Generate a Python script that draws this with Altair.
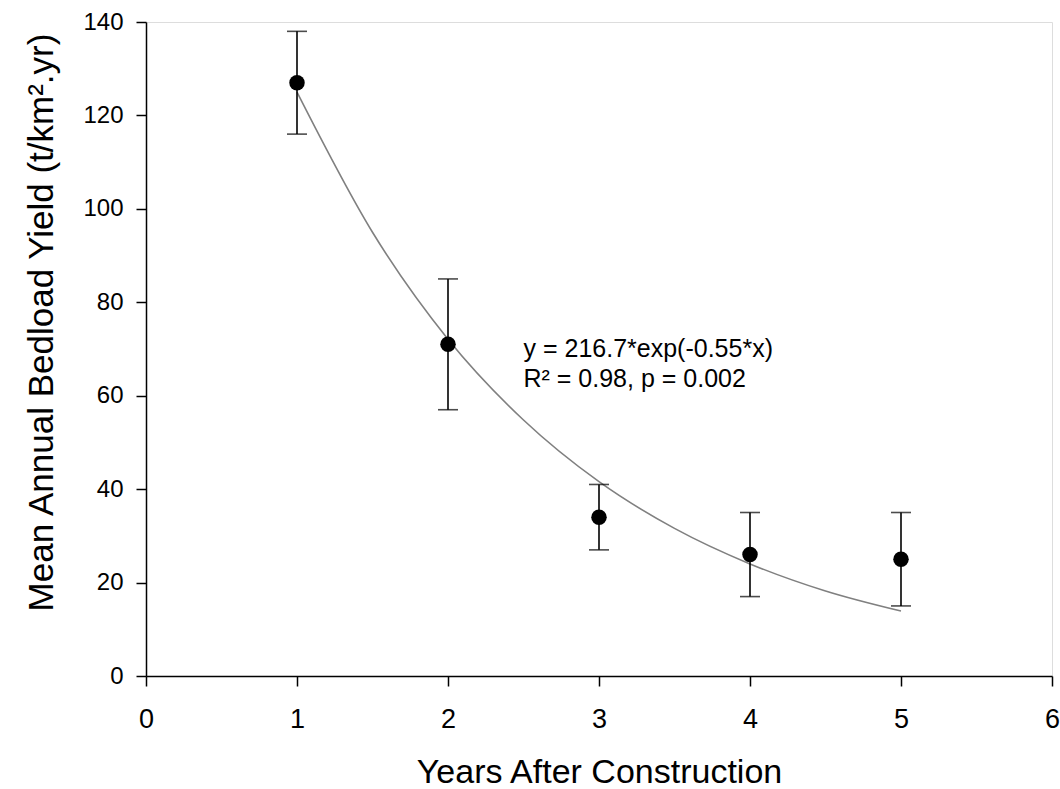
import altair as alt
import pandas as pd

years = [1, 2, 3, 4, 5]
mean_yield = [127, 71, 34, 26, 25]
lower = [116, 57, 27, 17, 15]
upper = [138, 85, 41, 35, 35]

fit_x = [1, 1.5, 2, 2.5, 3, 3.5, 4, 4.5, 5]
fit_y = [125.0, 95.0, 72.1, 54.8, 41.6, 31.6, 24.0, 18.2, 13.9]

ann_text = ["y = 216.7*exp(-0.55*x)", "R\u00b2 = 0.98, p = 0.002"]
ann_y = [68.3, 61.9]

FONT = "Liberation Sans"

pts = pd.DataFrame({"x": years, "y": mean_yield, "lo": lower, "hi": upper})
fit = pd.DataFrame({"x": fit_x, "y": fit_y})
ann = pd.DataFrame({"t": ann_text, "y": ann_y, "x": [2.5, 2.5]})

xscale = alt.Scale(domain=[0, 6], nice=False, zero=False)
yscale = alt.Scale(domain=[0, 140], nice=False)

xaxis = alt.Axis(
    title="Years After Construction", values=[0, 1, 2, 3, 4, 5, 6], format="d",
    grid=False, tickSize=10, tickWidth=1.5, tickColor="black",
    domainColor="black", domainWidth=1.5, labelFlush=False,
    labelFontSize=27, labelPadding=20, labelColor="black", labelFont=FONT,
    titleFontSize=34, titleFont=FONT, titleFontWeight="normal", titleColor="black",
    titleY=106, titleBaseline="alphabetic",
)
yaxis = alt.Axis(
    title="Mean Annual Bedload Yield (t/km\u00b2.yr)", values=[0, 20, 40, 60, 80, 100, 120, 140],
    grid=False, tickSize=10, tickWidth=1.5, tickColor="black",
    domainColor="black", domainWidth=1.5, labelFlush=False,
    labelFontSize=24, labelPadding=13, labelColor="black", labelFont=FONT,
    titleFontSize=35, titleFont=FONT, titleFontWeight="normal", titleColor="black",
    titleX=-94, titleY=300, titleBaseline="alphabetic",
)

base = alt.Chart(pts)

curve = alt.Chart(fit).mark_line(color="#808080", strokeWidth=1.6, interpolate="monotone").encode(
    x=alt.X("x:Q", scale=xscale, axis=xaxis),
    y=alt.Y("y:Q", scale=yscale, axis=yaxis),
)

bars = base.mark_rule(color="black", strokeWidth=1.6).encode(
    x=alt.X("x:Q", scale=xscale), y=alt.Y("lo:Q", scale=yscale), y2="hi:Q"
)
cap_lo = base.mark_tick(color="black", orient="horizontal", size=20, thickness=1.6).encode(
    x=alt.X("x:Q", scale=xscale), y=alt.Y("lo:Q", scale=yscale)
)
cap_hi = base.mark_tick(color="black", orient="horizontal", size=20, thickness=1.6).encode(
    x=alt.X("x:Q", scale=xscale), y=alt.Y("hi:Q", scale=yscale)
)
dots = base.mark_circle(color="black", size=240, opacity=1).encode(
    x=alt.X("x:Q", scale=xscale), y=alt.Y("y:Q", scale=yscale)
)
text = alt.Chart(ann).mark_text(
    align="left", baseline="alphabetic", fontSize=25, font=FONT, color="black"
).encode(x=alt.X("x:Q", scale=xscale), y=alt.Y("y:Q", scale=yscale), text="t:N")

chart = (
    alt.layer(curve, bars, cap_lo, cap_hi, dots, text)
    .properties(
        width=906, height=654,
        autosize=alt.AutoSizeParams(type="none"),
        padding={"left": 146, "top": 22, "right": 8, "bottom": 113},
    )
    .configure_view(stroke="black", strokeWidth=1.5)
    .configure(background="white")
)

chart.save("out.html", embed_options={"renderer": "svg", "actions": False})
